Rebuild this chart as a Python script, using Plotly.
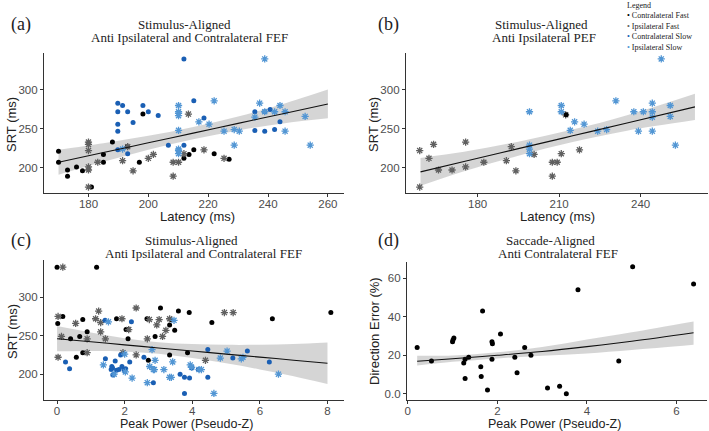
import plotly.graph_objects as go

W, H = 709, 431

# ---------------- Panel (a): Latency vs SRT, FEF ----------------
a_cf_x = [170, 170, 173, 173, 176, 178, 181, 185, 185, 188, 193, 197, 198.2, 211.9, 213.6, 215.2, 222, 227]
a_cf_y = [221, 207, 197, 189, 201, 196, 175, 217, 207, 233, 227, 207, 269, 212, 217, 223, 218, 211]
a_if_x = [180, 180, 180, 180, 180, 180, 183.1, 191.4, 193.1, 194.9, 200, 201.7, 208.3, 208.3, 210.1, 211.9, 213.4, 218.6, 225.3]
a_if_y = [233, 230, 222, 201, 197, 175, 207, 209, 227, 196, 212, 217, 207, 189, 207, 218, 269, 223, 212]
a_cs_x = [189.8, 189.8, 189.8, 189.8, 189.8, 191.4, 193.1, 193.1, 194.9, 198.2, 200, 203.3, 206.7, 211.9, 211.9,
          215.2, 218.6, 235.6, 235.6, 238.9, 238.9, 240.7, 242.2, 244]
a_cs_y = [283, 272, 256, 247, 223, 280, 272, 218, 258, 280, 272, 267, 229, 340, 229, 286, 264, 272, 248, 272, 247,
          275, 249, 259]
a_is_x = [191.4, 210.1, 210.1, 210.1, 210.1, 210.1, 210.1, 210.1, 210.1, 216.9, 220.3, 222, 225.3, 228.7, 228.7,
          230.4, 235.6, 237.2, 238.9, 238.9, 242.2, 244, 245.7, 245.7, 252.4, 254.1]
a_is_y = [224, 280, 272, 270, 267, 248, 224, 222, 218, 259, 256, 286, 247, 249, 229, 247, 265, 283, 340, 272, 272,
          280, 272, 247, 266, 229]
a_fit_x = [170, 185, 200, 215, 230, 245, 260]
a_fit_y = [207, 219.5, 232, 244.5, 257, 269.5, 282]
a_fit_lo = [191, 207.5, 223, 236.5, 248, 257, 263.5]
a_fit_hi = [223, 231.5, 241, 252.5, 266, 282, 300.5]

# ---------------- Panel (b): Latency vs SRT, PEF ----------------
b_cf_x = [212.6]
b_cf_y = [268]
b_if_x = [158.7, 158.7, 162.1, 163.8, 165.6, 170.6, 175.6, 175.6, 182.3, 190.6, 192.4, 194.1, 200.8, 207.5, 207.5,
          209.3, 210.8, 212.4, 217.5]
b_if_y = [222, 175, 212, 230, 197, 197, 233, 201, 207, 209, 227, 196, 217, 207, 189, 207, 218, 268, 223]
b_is_x = [199.1, 199.1, 199.1, 199.1, 210.8, 210.8, 214.1, 215.7, 219.2, 224.2, 227.5, 230.9, 237.5, 239.2, 241,
          244.3, 244.3, 244.3, 244.3, 247.6, 250.9, 250.9, 252.8]
b_is_y = [272, 229, 224, 218, 280, 272, 248, 259, 256, 247, 249, 286, 272, 247, 272, 283, 272, 265, 247, 340, 280,
          266, 229]
b_fit_x = [159, 175, 195, 215, 235, 260]
b_fit_y = [194.6, 207.9, 224.5, 241.0, 257.6, 278.3]
b_fit_lo = [176.6, 195.4, 215.5, 233.0, 247.6, 261.3]
b_fit_hi = [212.6, 220.4, 233.5, 249.0, 267.6, 295.3]

# ---------------- Panel (c): Peak power vs SRT ----------------
c_cf_x = [0, 1.17, 0.17, 0.02, 0.4, 0.57, 0.67, 0.76, 0.76, 0.89, 1.76, 2.04, 2.1, 2.1, 2.66, 2.7, 2.9, 3.06, 3.33,
          3.36, 3.33, 3.48, 3.59, 3.86, 3.91, 4.58, 6.37, 8.1]
c_cf_y = [339, 339, 275, 266, 246, 222, 249, 271, 228, 255, 272, 258, 258, 246, 272, 218, 249, 286, 264, 271, 225,
          257, 282, 228, 280, 267, 272, 280]
c_if_x = [0.17, 0.03, 0.13, 0.03, 0.55, 0.89, 0.89, 1.14, 1.23, 1.29, 1.29, 1.43, 1.92, 1.95, 2.12, 2.34, 2.34, 2.67,
          2.73, 2.95, 3.02, 3.12, 3.22, 3.33, 4.39, 4.95, 5.21]
c_if_y = [339, 275, 249, 222, 266, 246, 228, 272, 282, 267, 255, 246, 272, 228, 258, 286, 225, 246, 271, 264, 271,
          249, 257, 272, 218, 280, 280]
c_cs_x = [0.25, 0.37, 1.43, 1.42, 1.6, 1.62, 1.64, 1.65, 1.68, 1.72, 1.76, 1.83, 1.88, 1.92, 1.98, 2.03, 2.0, 2.15,
          2.2, 2.57, 2.85, 3.64, 3.77, 3.77, 3.92, 3.99, 4.18, 4.46, 4.46, 5.2, 5.63, 6.28]
c_cs_y = [216, 207, 220, 270, 206, 210, 208, 199, 200, 217, 205, 206, 225, 210, 206, 207, 204, 216, 268, 222, 189,
          200, 196, 175, 195, 208, 206, 232, 196, 221, 230, 216]
c_is_x = [1.37, 1.52, 1.69, 2.0, 2.02, 2.22, 2.67, 2.74, 2.81, 2.85, 2.88, 2.9, 3.16, 3.33, 3.38, 3.42, 3.46, 3.94,
          3.98, 4.2, 4.27, 4.64, 4.83, 5.03, 5.45, 5.5, 6.55]
c_is_y = [212, 268, 200, 226, 203, 195, 189, 210, 232, 206, 206, 218, 206, 196, 196, 216, 270, 212, 209, 206, 206,
          175, 221, 230, 220, 222, 200]
c_fit_x = [0, 1, 2, 3, 4, 5, 6, 7, 8]
c_fit_y = [246.1, 242.1, 238.1, 234.1, 230.1, 226.1, 222.2, 218.2, 214.2]
c_fit_lo = [229.7, 230.1, 229.6, 226.6, 221.1, 214.1, 206.2, 197.2, 187.2]
c_fit_hi = [262.5, 254.1, 246.6, 241.6, 239.1, 238.1, 238.2, 239.2, 241.2]

# ---------------- Panel (d): Peak power vs direction error ----------------
d_x = [0.21, 0.53, 1.0, 1.01, 1.03, 1.25, 1.28, 1.36, 1.28, 1.63, 1.64, 1.67, 1.78, 1.88, 1.89, 1.88, 2.07, 2.39,
       2.44, 2.61, 2.75, 3.12, 3.39, 3.54, 3.8, 4.71, 5.02, 6.38]
d_y = [24, 17, 27, 28, 29, 16, 18, 19, 8, 14, 9, 43, 2, 27, 26, 18, 31, 19, 11, 24, 20, 3, 4, 0, 54, 17, 66, 57]
d_fit_x = [0.21, 1, 2, 3, 4, 5, 6.38]
d_fit_y = [16.9, 18.2, 20.0, 22.0, 24.5, 27.3, 31.7]
d_fit_lo = [14.7, 16.6, 18.4, 19.8, 21.0, 22.8, 25.5]
d_fit_hi = [19.8, 19.9, 21.6, 24.3, 28.2, 32.0, 37.6]

# tick labels
ab_y_ticks = [200, 250, 300]
a_x_ticks = [180, 200, 220, 240, 260]
b_x_ticks = [180, 210, 240]
c_x_ticks = [0, 2, 4, 6, 8]
d_x_ticks = [0, 2, 4, 6]
d_y_ticks = [0, 20, 40, 60]
d_y_ticktext = ["0.0", "20", "40", "60"]

legend_title = "Legend"
legend_labels = ["Contralateral Fast", "Ipsilateral Fast", "Contralateral Slow", "Ipsilateral Slow"]

C_CF = "#000000"
C_IF = "#606060"
C_CS = "#1a5fb4"
C_IS = "#5296d4"
SERIF = "Liberation Serif"
SANS = "Liberation Sans"

fig = go.Figure()


def add_ribbon(fx, lo, hi, xa, ya):
    fig.add_trace(go.Scatter(x=fx, y=lo, mode="lines", line=dict(width=0, shape="spline"),
                             xaxis=xa, yaxis=ya, showlegend=False, hoverinfo="skip"))
    fig.add_trace(go.Scatter(x=fx, y=hi, mode="lines", line=dict(width=0, shape="spline"), fill="tonexty",
                             fillcolor="rgba(190,190,190,0.65)", xaxis=xa, yaxis=ya, showlegend=False,
                             hoverinfo="skip"))


def add_line(fx, fy, xa, ya):
    fig.add_trace(go.Scatter(x=fx, y=fy, mode="lines", line=dict(color="#111111", width=1.1, shape="spline"),
                             xaxis=xa, yaxis=ya, showlegend=False, hoverinfo="skip"))


def add_dots(x, y, color, xa, ya, name):
    fig.add_trace(go.Scatter(x=x, y=y, mode="markers", name=name,
                             marker=dict(symbol="circle", size=5, color=color, line=dict(width=0)),
                             xaxis=xa, yaxis=ya, showlegend=False))


def add_stars(x, y, color, xa, ya, name):
    fig.add_trace(go.Scatter(x=x, y=y, mode="markers", name=name,
                             marker=dict(symbol="asterisk-open", size=6, color=color,
                                         line=dict(width=1.3, color=color)),
                             xaxis=xa, yaxis=ya, showlegend=False))


# panel a
add_ribbon(a_fit_x, a_fit_lo, a_fit_hi, "x", "y")
add_dots(a_cf_x, a_cf_y, C_CF, "x", "y", legend_labels[0])
add_stars(a_if_x, a_if_y, C_IF, "x", "y", legend_labels[1])
add_dots(a_cs_x, a_cs_y, C_CS, "x", "y", legend_labels[2])
add_stars(a_is_x, a_is_y, C_IS, "x", "y", legend_labels[3])
add_line(a_fit_x, a_fit_y, "x", "y")

# panel b
add_ribbon(b_fit_x, b_fit_lo, b_fit_hi, "x2", "y2")
add_stars(b_if_x, b_if_y, C_IF, "x2", "y2", legend_labels[1])
add_dots(b_cf_x, b_cf_y, C_CF, "x2", "y2", legend_labels[0])
add_stars(b_is_x, b_is_y, C_IS, "x2", "y2", legend_labels[3])
add_line(b_fit_x, b_fit_y, "x2", "y2")

# panel c
add_ribbon(c_fit_x, c_fit_lo, c_fit_hi, "x3", "y3")
add_dots(c_cf_x, c_cf_y, C_CF, "x3", "y3", legend_labels[0])
add_stars(c_if_x, c_if_y, C_IF, "x3", "y3", legend_labels[1])
add_dots(c_cs_x, c_cs_y, C_CS, "x3", "y3", legend_labels[2])
add_stars(c_is_x, c_is_y, C_IS, "x3", "y3", legend_labels[3])
add_line(c_fit_x, c_fit_y, "x3", "y3")

# panel d
add_ribbon(d_fit_x, d_fit_lo, d_fit_hi, "x4", "y4")
add_dots(d_x, d_y, C_CF, "x4", "y4", legend_labels[0])
add_line(d_fit_x, d_fit_y, "x4", "y4")


def px(x):
    return x / W


def py(y):
    return 1 - y / H


axis_common = dict(showline=True, linecolor="#333333", linewidth=1, ticks="outside", ticklen=3,
                   tickcolor="#333333", showgrid=False, zeroline=False,
                   tickfont=dict(family=SANS, size=11.5, color="#4d4d4d"))
xaxis_common = dict(axis_common, ticklabelstandoff=-3)

fig.update_layout(
    width=W, height=H, margin=dict(l=0, r=0, t=0, b=0),
    paper_bgcolor="white", plot_bgcolor="white", showlegend=False,
    xaxis=dict(domain=[px(42), px(343)], range=[165.1, 265.4], tickvals=a_x_ticks, anchor="y", **xaxis_common),
    yaxis=dict(domain=[py(193), py(53)], range=[167.4, 347.6], tickvals=ab_y_ticks, anchor="x", **axis_common),
    xaxis2=dict(domain=[px(405), px(708)], range=[153.6, 264.8], tickvals=b_x_ticks, anchor="y2", **xaxis_common),
    yaxis2=dict(domain=[py(193), py(53)], range=[167.4, 347.6], tickvals=ab_y_ticks, anchor="x2", **axis_common),
    xaxis3=dict(domain=[px(42), px(343)], range=[-0.39, 8.49], tickvals=c_x_ticks, anchor="y3", **xaxis_common),
    yaxis3=dict(domain=[py(400), py(260)], range=[166.5, 348.3], tickvals=ab_y_ticks, anchor="x3", **axis_common),
    xaxis4=dict(domain=[px(406), px(707)], range=[-0.02, 6.68], tickvals=d_x_ticks, anchor="y4", **xaxis_common),
    yaxis4=dict(domain=[py(400), py(261.7)], range=[-3.2, 68.6], tickvals=d_y_ticks, ticktext=d_y_ticktext,
                anchor="x4", **axis_common),
)

ann = []


def text(x, y, s, size, family, color="#222222", angle=0, xanchor="center"):
    ann.append(dict(x=px(x), y=py(y), xref="paper", yref="paper", text=s, showarrow=False,
                    font=dict(family=family, size=size, color=color), textangle=angle,
                    xanchor=xanchor, yanchor="middle"))


# panel labels
text(19.5, 25, "(a)", 18, SERIF)
text(388, 25, "(b)", 18, SERIF)
text(19.5, 240, "(c)", 18, SERIF)
text(388, 240, "(d)", 18, SERIF)

# titles (two tightly spaced lines each)
text(183, 24, "Stimulus-Aligned", 13, SERIF)
text(188.3, 37.5, "Anti Ipsilateral and Contralateral FEF", 13, SERIF)
text(541.3, 24.5, "Stimulus-Aligned", 13, SERIF)
text(543.7, 38, "Anti Ipsilateral PEF", 13, SERIF)
text(189.7, 240.5, "Stimulus-Aligned", 13, SERIF)
text(202.3, 254, "Anti Ipsilateral and Contralateral FEF", 13, SERIF)
text(550.5, 240.5, "Saccade-Aligned", 13, SERIF)
text(557.8, 253.5, "Anti Contralateral FEF", 13, SERIF)

# axis titles
text(196, 216.5, "Latency (ms)", 13, SANS, "#222222")
text(556.8, 216.5, "Latency (ms)", 13, SANS, "#222222")
text(185, 424, "Peak Power (Pseudo-Z)", 12.5, SANS, "#222222")
text(554, 424, "Peak Power (Pseudo-Z)", 12.5, SANS, "#222222")
text(10, 124, "SRT (ms)", 13, SANS, "#222222", angle=-90)
text(373, 124, "SRT (ms)", 13, SANS, "#222222", angle=-90)
text(10, 331, "SRT (ms)", 13, SANS, "#222222", angle=-90)
text(373, 331, "Direction Error (%)", 13, SANS, "#222222", angle=-90)

# legend (manual, compact, one text block)
leg_colors = [C_CF, C_IF, C_CS, C_IS]
leg_lines = [legend_title] + ['<span style="color:%s">•</span> %s' % (c, l) for c, l in zip(leg_colors, legend_labels)]
ann.append(dict(x=px(626), y=py(0), xref="paper", yref="paper", text="<br>".join(leg_lines), showarrow=False,
                font=dict(family=SERIF, size=8, color="#222222"), xanchor="left", yanchor="top", align="left",
                borderpad=0))

fig.update_layout(annotations=ann)

# remove the default page margin so the 709x431 figure fills the window exactly
fig.write_html("out.html", config={"displayModeBar": False},
               post_script="document.body.style.margin='0';")
